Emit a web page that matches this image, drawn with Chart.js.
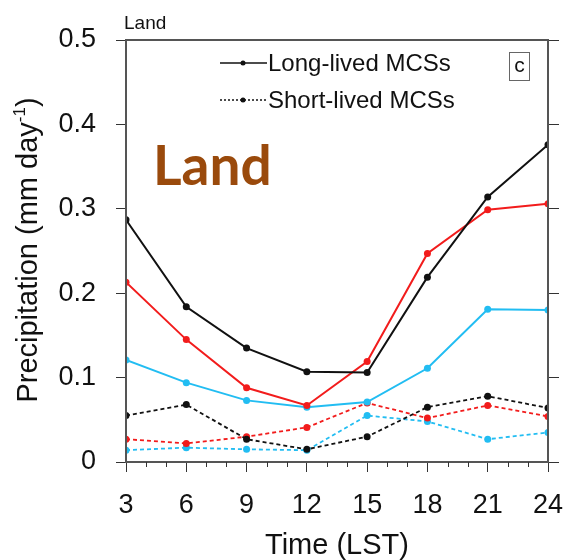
<!DOCTYPE html>
<html lang="en">
<head>
    <meta charset="UTF-8">
    <title>Land precipitation</title>
    <script src="https://cdn.jsdelivr.net/npm/chart.js"></script>
    <style>
        html, body {
            margin: 0;
            padding: 0;
            background: #fff;
        }
        #wrap {
            width: 563px;
            height: 560px;
        }
    </style>
</head>
<body>
<div id="wrap"><canvas id="landChart"></canvas></div>

<script>
    // hours (LST)
    const hours = [3, 6, 9, 12, 15, 18, 21, 24];
    const yTicks = [0, 0.1, 0.2, 0.3, 0.4, 0.5];

    // long-lived MCSs (solid)
    const longBlack = [0.287, 0.184, 0.135, 0.107, 0.106, 0.219, 0.314, 0.376];
    const longRed   = [0.213, 0.145, 0.088, 0.067, 0.119, 0.247, 0.299, 0.306];
    const longCyan  = [0.121, 0.094, 0.073, 0.065, 0.071, 0.111, 0.181, 0.180];

    // short-lived MCSs (dashed)
    const shortBlack = [0.055, 0.068, 0.027, 0.015, 0.030, 0.065, 0.078, 0.064];
    const shortRed   = [0.027, 0.022, 0.030, 0.041, 0.070, 0.052, 0.067, 0.054];
    const shortCyan  = [0.014, 0.017, 0.015, 0.014, 0.055, 0.048, 0.027, 0.035];

    const BLACK = '#111111';
    const RED = '#f21c1c';
    const CYAN = '#22bdf2';
    const FONT = '"Liberation Sans", Arial, sans-serif';

    function pts(vals) {
        return hours.map((h, i) => ({ x: h, y: vals[i] }));
    }

    function line(vals, color, dashed) {
        return {
            data: pts(vals),
            borderColor: color,
            backgroundColor: color,
            borderWidth: dashed ? 1.8 : 2,
            borderDash: dashed ? [4, 3] : [],
            pointRadius: 3.5,
            pointBorderWidth: 0,
            pointBackgroundColor: color,
            tension: 0,
            fill: false
        };
    }

    // frame, minor ticks, legend and labels
    const decor = {
        id: 'decor',
        afterDatasetsDraw(chart) {
            const ctx = chart.ctx;
            const a = chart.chartArea;
            const xs = chart.scales.x;
            ctx.save();

            // frame
            ctx.strokeStyle = '#555';
            ctx.lineWidth = 2;
            ctx.strokeRect(a.left, a.top, a.right - a.left, a.bottom - a.top);

            // minor ticks every hour
            ctx.strokeStyle = '#333';
            ctx.lineWidth = 1;
            for (let h = hours[0]; h <= hours[hours.length - 1]; h++) {
                if (h % 3 === 0) continue;
                const px = Math.round(xs.getPixelForValue(h)) + 0.5;
                ctx.beginPath();
                ctx.moveTo(px, a.bottom);
                ctx.lineTo(px, a.bottom + 5);
                ctx.stroke();
            }

            // small panel title
            ctx.fillStyle = '#111';
            ctx.font = '19px ' + FONT;
            ctx.textAlign = 'left';
            ctx.textBaseline = 'alphabetic';
            ctx.fillText('Land', 124, 29);

            // x title
            ctx.font = '29px ' + FONT;
            ctx.textAlign = 'center';
            ctx.fillText('Time (LST)', (a.left + a.right) / 2, 554);
            ctx.textAlign = 'left';

            // big label
            ctx.fillStyle = '#9a4a0c';
            ctx.font = 'bold 55px Lato, "Open Sans", sans-serif';
            ctx.fillText('Land', 153, 185);

            // legend
            ctx.strokeStyle = BLACK;
            ctx.fillStyle = BLACK;
            ctx.lineWidth = 1.5;
            const rows = [
                { y: 63, dash: [], text: 'Long-lived MCSs' },
                { y: 100, dash: [2, 2], text: 'Short-lived MCSs' }
            ];
            rows.forEach(r => {
                ctx.setLineDash(r.dash);
                ctx.beginPath();
                ctx.moveTo(220, r.y);
                ctx.lineTo(267, r.y);
                ctx.stroke();
                ctx.setLineDash([]);
                ctx.beginPath();
                ctx.arc(243, r.y, 2.5, 0, Math.PI * 2);
                ctx.fill();
                ctx.font = '24px ' + FONT;
                ctx.textBaseline = 'middle';
                ctx.fillText(r.text, 268, r.y + 1);
            });

            // panel letter box
            ctx.strokeStyle = '#666';
            ctx.lineWidth = 1;
            ctx.strokeRect(509.5, 52.5, 20, 28);
            ctx.font = '21px ' + FONT;
            ctx.textAlign = 'center';
            ctx.fillText('c', 519.5, 66);

            // y title with superscript
            ctx.translate(37, 250);
            ctx.rotate(-Math.PI / 2);
            ctx.textBaseline = 'alphabetic';
            ctx.textAlign = 'left';
            const main = 'Precipitation (mm day';
            const sup = '-1';
            const end = ')';
            const bigF = '29px ' + FONT;
            const supF = '17px ' + FONT;
            ctx.font = bigF;
            const w1 = ctx.measureText(main).width;
            const w3 = ctx.measureText(end).width;
            ctx.font = supF;
            const w2 = ctx.measureText(sup).width;
            let x0 = -(w1 + w2 + w3) / 2;
            ctx.fillStyle = '#111';
            ctx.font = bigF;
            ctx.fillText(main, x0, 0);
            ctx.font = supF;
            ctx.fillText(sup, x0 + w1, -12);
            ctx.font = bigF;
            ctx.fillText(end, x0 + w1 + w2, 0);

            ctx.restore();
        }
    };

    new Chart(document.getElementById('landChart'), {
        type: 'line',
        data: {
            datasets: [
                line(longBlack, BLACK, false),
                line(longRed, RED, false),
                line(longCyan, CYAN, false),
                line(shortBlack, BLACK, true),
                line(shortRed, RED, true),
                line(shortCyan, CYAN, true)
            ]
        },
        options: {
            responsive: true,
            maintainAspectRatio: false,
            animation: false,
            layout: {
                padding: { top: 40, left: 0, right: 0, bottom: 0 }
            },
            plugins: {
                legend: { display: false },
                tooltip: { enabled: false }
            },
            scales: {
                x: {
                    type: 'linear',
                    min: 3,
                    max: 24,
                    afterFit: s => {
                        s.height = 98;
                        s.paddingLeft = 0;
                        s.paddingRight = 0;
                    },
                    afterBuildTicks: s => { s.ticks = hours.map(v => ({ value: v })); },
                    grid: {
                        drawOnChartArea: false,
                        tickLength: 10,
                        color: '#333'
                    },
                    border: { display: false },
                    ticks: {
                        padding: 17,
                        color: '#111',
                        font: { family: FONT, size: 27 },
                        maxRotation: 0
                    }
                },
                y: {
                    min: 0,
                    max: 0.5,
                    afterFit: s => {
                        s.width = 126;
                        s.paddingTop = 0;
                        s.paddingBottom = 0;
                    },
                    afterBuildTicks: s => { s.ticks = yTicks.map(v => ({ value: v })); },
                    grid: {
                        drawOnChartArea: false,
                        tickLength: 10,
                        color: '#333'
                    },
                    border: { display: false },
                    ticks: {
                        padding: 20,
                        color: '#111',
                        font: { family: FONT, size: 27 },
                        callback: v => (v === 0 ? '0' : v.toFixed(1))
                    }
                },
                y2: {
                    position: 'right',
                    min: 0,
                    max: 0.5,
                    afterFit: s => { s.width = 15; },
                    afterBuildTicks: s => { s.ticks = yTicks.map(v => ({ value: v })); },
                    grid: {
                        drawOnChartArea: false,
                        tickLength: 11,
                        color: '#333'
                    },
                    border: { display: false },
                    ticks: { display: false }
                }
            }
        },
        plugins: [decor]
    });
</script>
</body>
</html>
